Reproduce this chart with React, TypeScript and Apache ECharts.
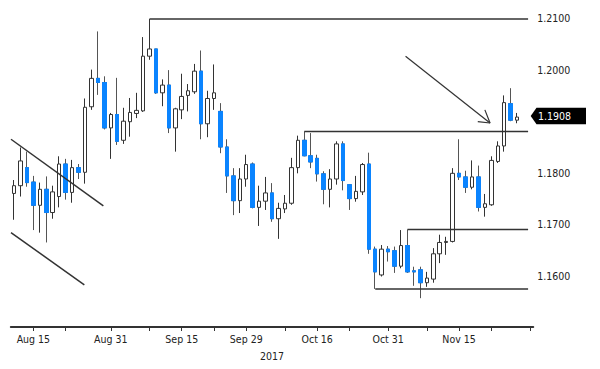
import React, { useEffect, useRef } from 'react';
import * as echarts from 'echarts';

// ---- data (EUR/USD daily) ----
const dates = [
  'Aug 10', 'Aug 11', 'Aug 14', 'Aug 15', 'Aug 16', 'Aug 17', 'Aug 18', 'Aug 21', 'Aug 22', 'Aug 23',
  'Aug 24', 'Aug 25', 'Aug 28', 'Aug 29', 'Aug 30', 'Aug 31', 'Sep 1', 'Sep 4', 'Sep 5', 'Sep 6',
  'Sep 7', 'Sep 8', 'Sep 11', 'Sep 12', 'Sep 13', 'Sep 14', 'Sep 15', 'Sep 18', 'Sep 19', 'Sep 20',
  'Sep 21', 'Sep 22', 'Sep 25', 'Sep 26', 'Sep 27', 'Sep 28', 'Sep 29', 'Oct 2', 'Oct 3', 'Oct 4',
  'Oct 5', 'Oct 6', 'Oct 9', 'Oct 10', 'Oct 11', 'Oct 12', 'Oct 13', 'Oct 16', 'Oct 17', 'Oct 18',
  'Oct 19', 'Oct 20', 'Oct 23', 'Oct 24', 'Oct 25', 'Oct 26', 'Oct 27', 'Oct 30', 'Oct 31', 'Nov 1',
  'Nov 2', 'Nov 3', 'Nov 6', 'Nov 7', 'Nov 8', 'Nov 9', 'Nov 10', 'Nov 13', 'Nov 14', 'Nov 15',
  'Nov 16', 'Nov 17', 'Nov 20', 'Nov 21', 'Nov 22', 'Nov 23', 'Nov 24', 'Nov 27', 'Nov 28',
  'Nov 29', 'Nov 30',
];

const opens = [
  1.1760, 1.1775, 1.1810, 1.1782, 1.1737, 1.1768, 1.1723, 1.1754, 1.1817, 1.1762,
  1.1810, 1.1801, 1.1928, 1.1983, 1.1975, 1.1887, 1.1913, 1.1863, 1.1899, 1.1915,
  1.1920, 1.2026, 1.2040, 1.1955, 1.1970, 1.1887, 1.1922, 1.1950, 1.1957, 1.1997,
  1.1895, 1.1944, 1.1919, 1.1850, 1.1794, 1.1746, 1.1788, 1.1817, 1.1733, 1.1745,
  1.1761, 1.1711, 1.1730, 1.1741, 1.1810, 1.1863, 1.1833, 1.1828, 1.1798, 1.1768,
  1.1788, 1.1856, 1.1777, 1.1750, 1.1763, 1.1817, 1.1652, 1.1602, 1.1652, 1.1649,
  1.1619, 1.1659, 1.1610, 1.1612, 1.1587, 1.1594, 1.1643, 1.1665, 1.1667, 1.1799,
  1.1792, 1.1772, 1.1792, 1.1733, 1.1738, 1.1822, 1.1852, 1.1934, 1.1902,
];
const closes = [
  1.1775, 1.1823, 1.1781, 1.1737, 1.1768, 1.1723, 1.1763, 1.1817, 1.1762, 1.1810,
  1.1801, 1.1927, 1.1983, 1.1975, 1.1887, 1.1913, 1.1861, 1.1900, 1.1917, 1.1921,
  1.2026, 1.2040, 1.1955, 1.1970, 1.1887, 1.1924, 1.1948, 1.1959, 1.1997, 1.1895,
  1.1944, 1.1955, 1.1850, 1.1794, 1.1746, 1.1788, 1.1816, 1.1733, 1.1745, 1.1761,
  1.1711, 1.1731, 1.1741, 1.1810, 1.1863, 1.1833, 1.1821, 1.1798, 1.1768, 1.1788,
  1.1856, 1.1785, 1.1750, 1.1764, 1.1816, 1.1652, 1.1608, 1.1652, 1.1647, 1.1619,
  1.1659, 1.1608, 1.1608, 1.1587, 1.1596, 1.1643, 1.1665, 1.1667, 1.1799, 1.1792,
  1.1772, 1.1792, 1.1733, 1.1740, 1.1824, 1.1852, 1.1936, 1.1902, 1.1908,
];
const lows = [
  1.1709, 1.1754, 1.1773, 1.1689, 1.1684, 1.1665, 1.1711, 1.1733, 1.1748, 1.1742,
  1.1788, 1.1779, 1.1922, 1.1951, 1.1884, 1.1827, 1.1854, 1.1856, 1.1870, 1.1906,
  1.1918, 1.2019, 1.1953, 1.1929, 1.1877, 1.1841, 1.1904, 1.1919, 1.1953, 1.1865,
  1.1869, 1.1922, 1.1838, 1.1761, 1.1718, 1.1722, 1.1773, 1.1731, 1.1697, 1.1728,
  1.1705, 1.1672, 1.1722, 1.1738, 1.1799, 1.1832, 1.1809, 1.1783, 1.1739, 1.1733,
  1.1777, 1.1766, 1.1728, 1.1744, 1.1757, 1.1643, 1.1575, 1.1599, 1.1628, 1.1606,
  1.1615, 1.1606, 1.1581, 1.1557, 1.1579, 1.1587, 1.1625, 1.1641, 1.1665, 1.1786,
  1.1761, 1.1768, 1.1725, 1.1715, 1.1736, 1.1819, 1.1841, 1.1900, 1.1896,
];
const highs = [
  1.1786, 1.1849, 1.1841, 1.1794, 1.1781, 1.1793, 1.1775, 1.1832, 1.1827, 1.1825,
  1.1817, 1.1944, 1.2000, 1.2074, 1.1987, 1.1916, 1.1984, 1.1926, 1.1945, 1.1955,
  1.2063, 1.2098, 1.2040, 1.1981, 1.1999, 1.1926, 1.1992, 1.1972, 1.2011, 1.2037,
  1.1959, 1.2010, 1.1935, 1.1865, 1.1809, 1.1809, 1.1835, 1.1820, 1.1775, 1.1792,
  1.1780, 1.1742, 1.1757, 1.1829, 1.1872, 1.1880, 1.1877, 1.1835, 1.1803, 1.1807,
  1.1861, 1.1861, 1.1777, 1.1794, 1.1819, 1.1839, 1.1657, 1.1660, 1.1658, 1.1657,
  1.1689, 1.1690, 1.1618, 1.1618, 1.1608, 1.1654, 1.1680, 1.1676, 1.1809, 1.1865,
  1.1804, 1.1824, 1.1814, 1.1759, 1.1832, 1.1861, 1.1950, 1.1964, 1.1916,
];

const tickIdx = [3, 8, 15, 21, 26, 31, 36, 42, 47, 52, 58, 64, 69, 74, 80];
const labelIdx = [3, 15, 26, 36, 47, 58, 69];
const yTicks = [1.16, 1.17, 1.18, 1.2, 1.21];
const yearLabel = '2017';
const lastPrice = 1.1908;

// annotation levels (start index, price); lines run to levelEnd
const levelStarts = [21, 45, 61, 56];
const levelValues = [1.2098, 1.188, 1.169, 1.1575];
const levelEnd = 79.7;
const channelUpper = [[-0.47, 1.1865], [13.85, 1.1736]];
const channelLower = [[-0.47, 1.1684], [10.9, 1.1583]];
const arrowShaft = [[60.7, 1.2026], [73.8, 1.18965]];
const arrowHead = [[71.9, 1.1899], [73.8, 1.18965], [73.0, 1.1922]];

const FONT = '"DejaVu Sans Condensed", "DejaVu Sans", "Liberation Sans", sans-serif';
const BLUE = '#0a84ff';
const DARK = '#333333';

export default function App() {
  const ref = useRef<HTMLDivElement>(null);

  useEffect(() => {
    if (!ref.current) return;
    const chart = echarts.init(ref.current, undefined, { renderer: 'svg' });

    const n = closes.length;
    const candleData = dates.map((_, i) =>
      i < n ? [opens[i], closes[i], lows[i], highs[i]] : '-'
    );
    const downBodies = dates.map((_, i) =>
      i < n && closes[i] < opens[i] ? [opens[i], closes[i], closes[i], opens[i]] : '-'
    );

    const lineSeries = (data: number[][], width: number) => ({
      type: 'line',
      xAxisIndex: 1,
      yAxisIndex: 0,
      data,
      symbol: 'none',
      silent: true,
      clip: false,
      lineStyle: { color: DARK, width },
      z: 5,
    });

    const annotations: any[] = [];
    levelStarts.forEach((s, k) => {
      annotations.push(lineSeries([[s, levelValues[k]], [levelEnd, levelValues[k]]], 1.5));
    });
    annotations.push(lineSeries(channelUpper, 1.5));
    annotations.push(lineSeries(channelLower, 1.5));
    annotations.push(lineSeries(arrowShaft, 1.2));
    annotations.push(lineSeries(arrowHead, 1.2));

    const yMin = 1.150116;
    const yMax = 1.213488;

    chart.setOption({
      animation: false,
      backgroundColor: '#ffffff',
      textStyle: { fontFamily: FONT },
      grid: { left: 10.8, right: 66.75, top: 0, height: 327 },
      xAxis: [
        {
          type: 'category',
          data: dates,
          boundaryGap: true,
          axisLine: { show: true, lineStyle: { color: DARK, width: 2 } },
          axisTick: {
            show: true,
            alignWithLabel: true,
            interval: (i: number) => tickIdx.includes(i),
            length: 4,
            lineStyle: { color: DARK, width: 1 },
          },
          axisLabel: {
            interval: (i: number) => labelIdx.includes(i),
            color: '#222',
            fontSize: 10.5,
            fontFamily: FONT,
            margin: 6,
          },
          splitLine: { show: false },
          name: yearLabel,
          nameLocation: 'middle',
          nameGap: 23,
          nameTextStyle: { color: '#222', fontSize: 10.5, fontFamily: FONT },
        },
        {
          type: 'value',
          min: -0.5,
          max: 80.5,
          show: false,
          position: 'top',
        },
      ],
      yAxis: {
        type: 'value',
        position: 'right',
        min: yMin,
        max: yMax,
        axisLine: { show: false },
        axisTick: { show: false },
        splitLine: { show: false },
        axisLabel: {
          customValues: yTicks,
          formatter: (v: number) => v.toFixed(4),
          color: '#222',
          fontSize: 10.5,
          fontFamily: FONT,
          margin: 4,
        },
      },
      series: [
        {
          type: 'candlestick',
          data: candleData,
          barWidth: 4,
          silent: true,
          itemStyle: {
            color: '#ffffff',
            color0: BLUE,
            borderColor: DARK,
            borderColor0: '#555555',
            borderWidth: 1,
          },
          z: 2,
        },
        {
          type: 'candlestick',
          data: downBodies,
          barWidth: 4,
          silent: true,
          itemStyle: {
            color: BLUE,
            color0: BLUE,
            borderColor: BLUE,
            borderColor0: BLUE,
            borderWidth: 1,
          },
          z: 3,
        },
        ...annotations,
      ],
    });

    const yc = (chart.convertToPixel({ yAxisIndex: 0 }, lastPrice) as number) - 1;
    chart.setOption({
      graphic: [
        {
          type: 'polygon',
          shape: {
            points: [
              [530.7, yc],
              [536.5, yc - 8.2],
              [586, yc - 8.2],
              [586, yc + 8.2],
              [536.5, yc + 8.2],
            ],
          },
          style: { fill: '#000000' },
          z: 10,
        },
        {
          type: 'text',
          x: 538,
          y: yc,
          style: {
            text: lastPrice.toFixed(4),
            fill: '#ffffff',
            font: `10.5px ${FONT}`,
            textVerticalAlign: 'middle',
            verticalAlign: 'middle',
          },
          z: 11,
        },
      ],
    });

    return () => chart.dispose();
  }, []);

  return (
    <div
      ref={ref}
      style={{ position: 'absolute', left: 0, top: 0, width: 600, height: 369, background: '#fff' }}
    />
  );
}
